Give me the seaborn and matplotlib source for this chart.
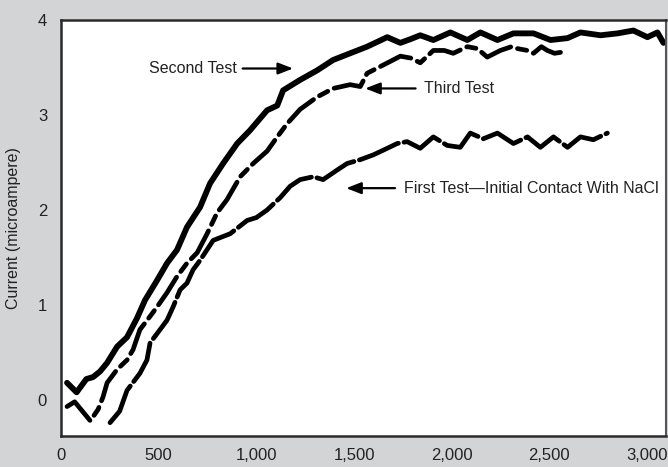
import seaborn as sns
import matplotlib.pyplot as plt
import pandas as pd

# readings taken off the reference figure (time vs current)
second_x = [31, 80, 130, 164, 200, 236, 287, 338, 389, 430, 492, 543, 594, 645,
            712, 763, 830, 902, 968, 1055, 1107, 1137, 1224, 1311, 1393, 1480,
            1567, 1670, 1737, 1790, 1839, 1906, 1993, 2080, 2147, 2234, 2316,
            2419, 2506, 2593, 2659, 2762, 2849, 2930, 3002, 3053, 3084]
second_y = [0.18, 0.08, 0.22, 0.24, 0.30, 0.39, 0.56, 0.66, 0.86, 1.05, 1.26,
            1.44, 1.58, 1.82, 2.03, 2.28, 2.49, 2.70, 2.84, 3.05, 3.10, 3.26,
            3.37, 3.47, 3.58, 3.65, 3.72, 3.82, 3.76, 3.80, 3.84, 3.79, 3.87,
            3.79, 3.87, 3.79, 3.86, 3.86, 3.79, 3.81, 3.87, 3.84, 3.86, 3.89,
            3.82, 3.87, 3.76]

third_x = [31, 70, 110, 150, 190, 215, 236, 287, 338, 369, 404, 456, 492, 543,
           594, 645, 697, 748, 799, 850, 917, 984, 1055, 1107, 1158, 1224, 1311,
           1393, 1480, 1532, 1567, 1634, 1700, 1737, 1790, 1839, 1906, 1962,
           2008, 2080, 2131, 2182, 2249, 2306, 2336, 2388, 2419, 2459, 2490,
           2526, 2557]
third_y = [-0.07, -0.02, -0.12, -0.22, -0.10, 0.03, 0.18, 0.32, 0.42, 0.53, 0.74,
           0.88, 0.98, 1.13, 1.30, 1.44, 1.55, 1.75, 1.97, 2.11, 2.35, 2.49, 2.62,
           2.77, 2.91, 3.06, 3.19, 3.28, 3.32, 3.30, 3.44, 3.51, 3.58, 3.62, 3.60,
           3.55, 3.68, 3.68, 3.65, 3.72, 3.70, 3.61, 3.68, 3.72, 3.70, 3.68, 3.65,
           3.72, 3.68, 3.65, 3.66]

first_x = [251, 300, 338, 404, 440, 456, 507, 543, 574, 610, 645, 676, 712, 779,
           866, 953, 1000, 1055, 1122, 1173, 1224, 1291, 1342, 1413, 1465, 1532,
           1598, 1650, 1721, 1772, 1839, 1906, 1977, 2044, 2095, 2162, 2234,
           2316, 2388, 2454, 2521, 2593, 2659, 2725, 2797]
first_y = [-0.24, -0.12, 0.10, 0.28, 0.42, 0.60, 0.74, 0.84, 0.98, 1.16, 1.23,
           1.37, 1.47, 1.68, 1.75, 1.89, 1.92, 2.00, 2.13, 2.25, 2.32, 2.35, 2.32,
           2.42, 2.49, 2.53, 2.58, 2.63, 2.70, 2.72, 2.65, 2.77, 2.68, 2.66, 2.81,
           2.75, 2.81, 2.70, 2.77, 2.66, 2.77, 2.66, 2.77, 2.74, 2.81]

x_ticks = [0, 500, 1000, 1500, 2000, 2500, 3000]
x_tick_labels = ['0', '500', '1,000', '1,500', '2,000', '2,500', '3,000']
y_ticks = [0, 1, 2, 3, 4]

sns.set_style('white')
plt.rcParams['font.family'] = ['Liberation Sans', 'DejaVu Sans']

bg = '#d3d4d6'
fig = plt.figure(figsize=(6.68, 4.67), dpi=100, facecolor=bg)
ax = fig.add_axes([0.0913, 0.0664, 0.9057, 0.8906])
ax.set_facecolor('white')

series = [
    (second_x, second_y, None, 4.2),
    (third_x, third_y, (7, 1.5, 2, 1.5), 3.4),
    (first_x, first_y, (9, 1.2), 3.4),
]
for xs, ys, dash, lw in series:
    df = pd.DataFrame({'t': xs, 'i': ys})
    sns.lineplot(data=df, x='t', y='i', ax=ax, color='black',
                 linewidth=lw, estimator=None, sort=False)
    l = ax.lines[-1]
    l.set_solid_capstyle('round')
    l.set_solid_joinstyle('round')
    if dash is not None:
        l.set_dashes(dash)
        l.set_dash_capstyle('round')

ax.set_xlim(0, 3097)
ax.set_ylim(-0.38, 4.0)
ax.set_xticks(x_ticks)
ax.set_xticklabels(x_tick_labels)
ax.set_yticks(y_ticks)
ax.tick_params(axis='both', direction='in', length=5, width=1, colors='#333333',
               labelsize=12, labelcolor='#222222')
ax.tick_params(axis='x', pad=9)
ax.tick_params(axis='y', pad=10)
ax.set_xlabel('')
ax.set_ylabel('Current (microampere)', fontsize=11.5, color='#222222', labelpad=12)

for side in ['left', 'bottom', 'top']:
    ax.spines[side].set_color('#2a2a2a')
    ax.spines[side].set_linewidth(1.8)
ax.spines['right'].set_color('#555555')
ax.spines['right'].set_linewidth(1.5)

arrow = dict(arrowstyle='-|>,head_length=0.9,head_width=0.35', color='black',
             lw=1.6, shrinkA=0, shrinkB=0)
ax.text(900, 3.49, 'Second Test', fontsize=11.5, color='#222222',
        ha='right', va='center')
ax.annotate('', xy=(1188, 3.49), xytext=(930, 3.49), arrowprops=arrow)
ax.text(1860, 3.28, 'Third Test', fontsize=11.5, color='#222222',
        ha='left', va='center')
ax.annotate('', xy=(1557, 3.28), xytext=(1815, 3.28), arrowprops=arrow)
ax.text(1755, 2.23, 'First Test\u2014Initial Contact With NaCl', fontsize=11.5,
        color='#222222', ha='left', va='center')
ax.annotate('', xy=(1460, 2.23), xytext=(1710, 2.23), arrowprops=arrow)

fig.savefig('out.png', dpi=100, facecolor=bg)
